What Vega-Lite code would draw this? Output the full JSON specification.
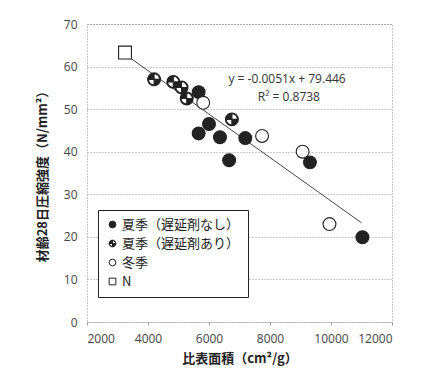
{
  "$schema": "https://vega.github.io/schema/vega-lite/v6.json",
  "width": 305,
  "height": 298,
  "autosize": {"type": "none"},
  "padding": {"left": 87, "top": 24, "right": 33, "bottom": 61},
  "background": "white",
  "config": {
    "font": "Noto Sans CJK JP",
    "view": {"stroke": "#888", "strokeDash": [1, 2], "strokeWidth": 1},
    "axis": {"labelFont": "Open Sans", "labelFontSize": 12, "labelColor": "#444", "titleFont": "Noto Sans CJK JP", "titleFontSize": 13, "titleFontWeight": "bold", "titleColor": "#222", "domain": false}
  },
  "datasets": {
    "points": [
      {"area": 3246, "strength": 63.3, "group": "N"},
      {"area": 4200, "strength": 57.0, "group": "夏季（遅延剤あり）"},
      {"area": 4830, "strength": 56.4, "group": "夏季（遅延剤あり）"},
      {"area": 5100, "strength": 55.1, "group": "夏季（遅延剤あり）"},
      {"area": 5270, "strength": 52.5, "group": "夏季（遅延剤あり）"},
      {"area": 6750, "strength": 47.6, "group": "夏季（遅延剤あり）"},
      {"area": 5660, "strength": 54.0, "group": "夏季（遅延剤なし）"},
      {"area": 6000, "strength": 46.5, "group": "夏季（遅延剤なし）"},
      {"area": 5660, "strength": 44.3, "group": "夏季（遅延剤なし）"},
      {"area": 6360, "strength": 43.4, "group": "夏季（遅延剤なし）"},
      {"area": 7190, "strength": 43.2, "group": "夏季（遅延剤なし）"},
      {"area": 6660, "strength": 38.0, "group": "夏季（遅延剤なし）"},
      {"area": 9310, "strength": 37.5, "group": "夏季（遅延剤なし）"},
      {"area": 11030, "strength": 19.9, "group": "夏季（遅延剤なし）"},
      {"area": 5810, "strength": 51.5, "group": "冬季"},
      {"area": 7740, "strength": 43.7, "group": "冬季"},
      {"area": 9070, "strength": 40.0, "group": "冬季"},
      {"area": 9950, "strength": 23.0, "group": "冬季"}
    ],
    "trend": [
      {"area": 3246, "strength": 62.9},
      {"area": 11000, "strength": 23.3}
    ],
    "notes": [
      {"area": 8560, "strength": 57.0, "text": "y = -0.0051x + 79.446"},
      {"area": 8620, "strength": 52.8, "text": "R² = 0.8738"}
    ]
  },
  "encoding": {
    "x": {"field": "area", "type": "quantitative", "scale": {"domain": [2000, 12000], "nice": false}, "axis": {"title": "比表面積（cm²/g）", "values": [2000, 4000, 6000, 8000, 10000, 12000], "grid": false, "format": "d", "tickSize": 3, "tickColor": "#999", "labelPadding": 8, "titlePadding": 8}},
    "y": {"field": "strength", "type": "quantitative", "scale": {"domain": [0, 70], "nice": false}, "axis": {"title": "材齢28日圧縮強度（N/mm²）", "values": [0, 10, 20, 30, 40, 50, 60, 70], "grid": true, "gridColor": "#999", "gridDash": [1, 2], "ticks": false, "labelPadding": 10, "titlePadding": 14}}
  },
  "layer": [
    {
      "data": {"name": "trend"},
      "mark": {"type": "line", "color": "#444", "strokeWidth": 1},
      "encoding": {}
    },
    {
      "data": {"name": "points"},
      "transform": [{"filter": "datum.group === '夏季（遅延剤あり）'"}],
      "mark": {"type": "point", "filled": true, "size": 165, "fill": "white", "strokeWidth": 0, "shape": "circle", "opacity": 1},
      "encoding": {}
    },
    {
      "data": {"name": "points"},
      "mark": {"type": "point", "filled": false, "size": 165, "stroke": "#222", "strokeWidth": 1.1, "opacity": 1},
      "encoding": {
        "shape": {"field": "group", "type": "nominal", "scale": {"domain": ["夏季（遅延剤なし）", "夏季（遅延剤あり）", "冬季", "N"], "range": ["circle", "M1,0A1,1,0,1,1,-1,0A1,1,0,1,1,1,0Z M0.88,0A0.88,0.88,0,1,0,-0.88,0A0.88,0.88,0,1,0,0.88,0Z M0,0L0,-0.88A0.88,0.88,0,0,0,-0.88,0Z M0,0L0,0.88A0.88,0.88,0,0,0,0.88,0Z", "circle", "square"]}},
        "fill": {"field": "group", "type": "nominal", "scale": {"domain": ["夏季（遅延剤なし）", "夏季（遅延剤あり）", "冬季", "N"], "range": ["#222", "#222", "white", "white"]}, "legend": {
          "title": null, "orient": "none", "legendX": 11, "legendY": 186,
          "strokeColor": "#222", "fillColor": "white", "padding": 8,
          "labelFont": "Noto Sans CJK JP", "labelFontSize": 13, "labelColor": "#222",
          "symbolSize": 45, "symbolStrokeColor": "#222", "symbolStrokeWidth": 1,
          "rowPadding": 5, "labelOffset": 3
        }}
      }
    },
    {
      "data": {"name": "notes"},
      "mark": {"type": "text", "font": "Open Sans", "fontSize": 12, "color": "#333"},
      "encoding": {"text": {"field": "text"}}
    }
  ]
}
